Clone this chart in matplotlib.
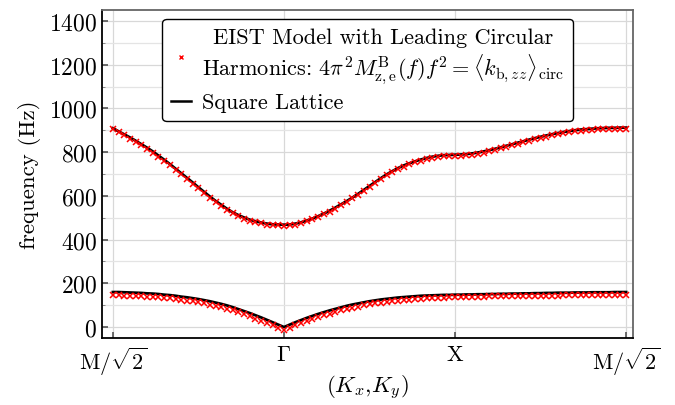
import numpy as np
import matplotlib
matplotlib.use("Agg")
import matplotlib.pyplot as plt
from matplotlib.lines import Line2D

plt.rcParams['font.family'] = 'cmr10'
plt.rcParams['mathtext.fontset'] = 'cm'
plt.rcParams['axes.formatter.use_mathtext'] = True
plt.rcParams['axes.unicode_minus'] = False

# path coordinate: 0 = M/sqrt2, 1 = Gamma, 2 = X, 3 = M/sqrt2 (31 samples per segment)
n_seg = 30
path = np.concatenate([np.arange(n_seg) / n_seg + i for i in range(3)] + [[3.0]])

tick_pos = [0, 1, 2, 3]
tick_labels = [r'$\mathrm{M}/\sqrt{2}$', r'$\Gamma$', r'$\mathrm{X}$', r'$\mathrm{M}/\sqrt{2}$']

# square lattice, upper band (Hz)
lattice_upper = [
    909, 895, 881, 867, 852, 836, 820, 803, 784, 765, 745, 724, 703, 682, 661,
    639, 618, 597, 577, 559, 541, 525, 512, 501, 491, 484, 478, 473, 470, 469,
    468, 469, 473, 479, 487, 496, 507, 519, 532, 546, 561, 576, 592, 609, 627,
    645, 663, 681, 698, 713, 727, 739, 749, 758, 766, 773, 779, 783, 786, 787,
    788, 789, 791, 794, 798, 803, 809, 815, 822, 829, 836, 843, 850, 857, 864,
    870, 876, 882, 887, 892, 896, 900, 903, 905, 907, 909, 910, 911, 911, 912,
    912,
]
# square lattice, lower band (Hz)
lattice_lower = [
    160, 160, 159, 158, 157, 156, 154, 153, 151, 148, 146, 143, 139, 136, 132,
    128, 123, 118, 112, 106, 99, 91, 82, 73, 64, 54, 44, 33, 22, 11,
    0, 11, 22, 32, 42, 51, 60, 68, 76, 83, 90, 97, 103, 108, 113,
    118, 122, 126, 129, 132, 135, 137, 139, 141, 143, 144, 145, 146, 147, 147,
    148, 148, 149, 149, 150, 150, 151, 151, 152, 152, 153, 153, 154, 154, 155,
    155, 156, 156, 157, 157, 157, 158, 158, 158, 159, 159, 159, 159, 160, 160,
    160,
]
# EIST model, upper band (Hz)
eist_upper = [
    904, 890, 876, 862, 847, 831, 815, 798, 779, 760, 740, 719, 698, 677, 656,
    634, 613, 592, 572, 554, 536, 520, 507, 496, 487, 480, 474, 469, 466, 465,
    464, 465, 469, 475, 483, 492, 503, 515, 528, 542, 557, 572, 588, 605, 623,
    641, 659, 677, 694, 709, 722, 734, 744, 753, 761, 768, 774, 778, 781, 782,
    783, 784, 786, 789, 793, 798, 804, 810, 817, 824, 831, 838, 845, 852, 859,
    865, 871, 877, 882, 887, 891, 895, 898, 900, 902, 904, 905, 906, 906, 907,
    907,
]
# EIST model, lower band (Hz)
eist_lower = [
    145, 145, 144, 143, 142, 141, 139, 138, 136, 133, 131, 128, 124, 121, 117,
    113, 108, 103, 97, 91, 84, 76, 67, 58, 49, 39, 29, 19, 8, -2,
    -12, -2, 8, 18, 28, 37, 46, 54, 62, 69, 76, 83, 89, 94, 99,
    104, 108, 112, 115, 118, 121, 123, 126, 128, 130, 132, 133, 134, 135, 136,
    137, 137, 138, 138, 139, 139, 140, 140, 141, 141, 142, 142, 142, 143, 143,
    143, 144, 144, 144, 145, 145, 145, 145, 146, 146, 146, 146, 146, 147, 147,
    147,
]

fig = plt.figure(figsize=(6.75, 4.06), dpi=100)
ax = fig.add_axes([0.151, 0.165, 0.787, 0.808])

ax.plot(path, lattice_upper, color='black', lw=2.0, zorder=3)
ax.plot(path, lattice_lower, color='black', lw=2.0, zorder=3)
ax.plot(path, eist_upper, ls='none', marker='x', color='red', ms=4, mew=1.1, zorder=4)
ax.plot(path, eist_lower, ls='none', marker='x', color='red', ms=4, mew=1.1, zorder=4)

ax.set_xlim(-0.064, 3.041)
ax.set_ylim(-50, 1450)
ax.set_xticks(tick_pos)
ax.set_xticklabels(tick_labels, fontsize=16)
ax.set_yticks(np.arange(0, 1401, 200))
ax.set_yticks(np.arange(0, 1401, 100), minor=True)
ax.tick_params(axis='y', labelsize=17, direction='in', length=4, width=1.2, color='#555555')
ax.tick_params(axis='y', which='minor', direction='in', length=2, color='#777777')
ax.tick_params(axis='x', direction='in', length=4, width=1.2, color='#555555', pad=5)

ax.grid(True, which='major', color='#d8d8d8', lw=0.9)
ax.grid(True, which='minor', axis='y', color='#e4e4e4', lw=0.9)
ax.set_axisbelow(True)

for side in ['left', 'bottom']:
    ax.spines[side].set_color('black')
    ax.spines[side].set_linewidth(1.3)
for side in ['top', 'right']:
    ax.spines[side].set_color('#666666')
    ax.spines[side].set_linewidth(1.3)

ax.set_ylabel('frequency (Hz)', fontsize=16.5, labelpad=6)
ax.set_xlabel(r'$(K_x{,}K_y)$', fontsize=16.5, labelpad=-3)

handles = [
    Line2D([], [], ls='none', marker='x', color='red', ms=3.5, mew=1.0),
    Line2D([], [], color='black', lw=1.8),
]
labels = [
    'EIST Model with Leading Circular\n'
    r'Harmonics: $4\pi^2 M^{\mathrm{B}}_{\mathrm{z,e}}(f)f^2 = \langle k_{\mathrm{b},zz}\rangle_{\mathrm{circ}}$',
    'Square Lattice',
]
leg = ax.legend(handles, labels, loc='upper center', fontsize=16, frameon=True,
                fancybox=True, framealpha=1, edgecolor='black',
                handlelength=0.9, handletextpad=0.5, borderaxespad=0.4,
                labelspacing=0.3, borderpad=0.4)
leg.get_frame().set_linewidth(1.0)
for t in leg.get_texts():
    t.set_multialignment('center')

fig.savefig('out.png', dpi=100)
